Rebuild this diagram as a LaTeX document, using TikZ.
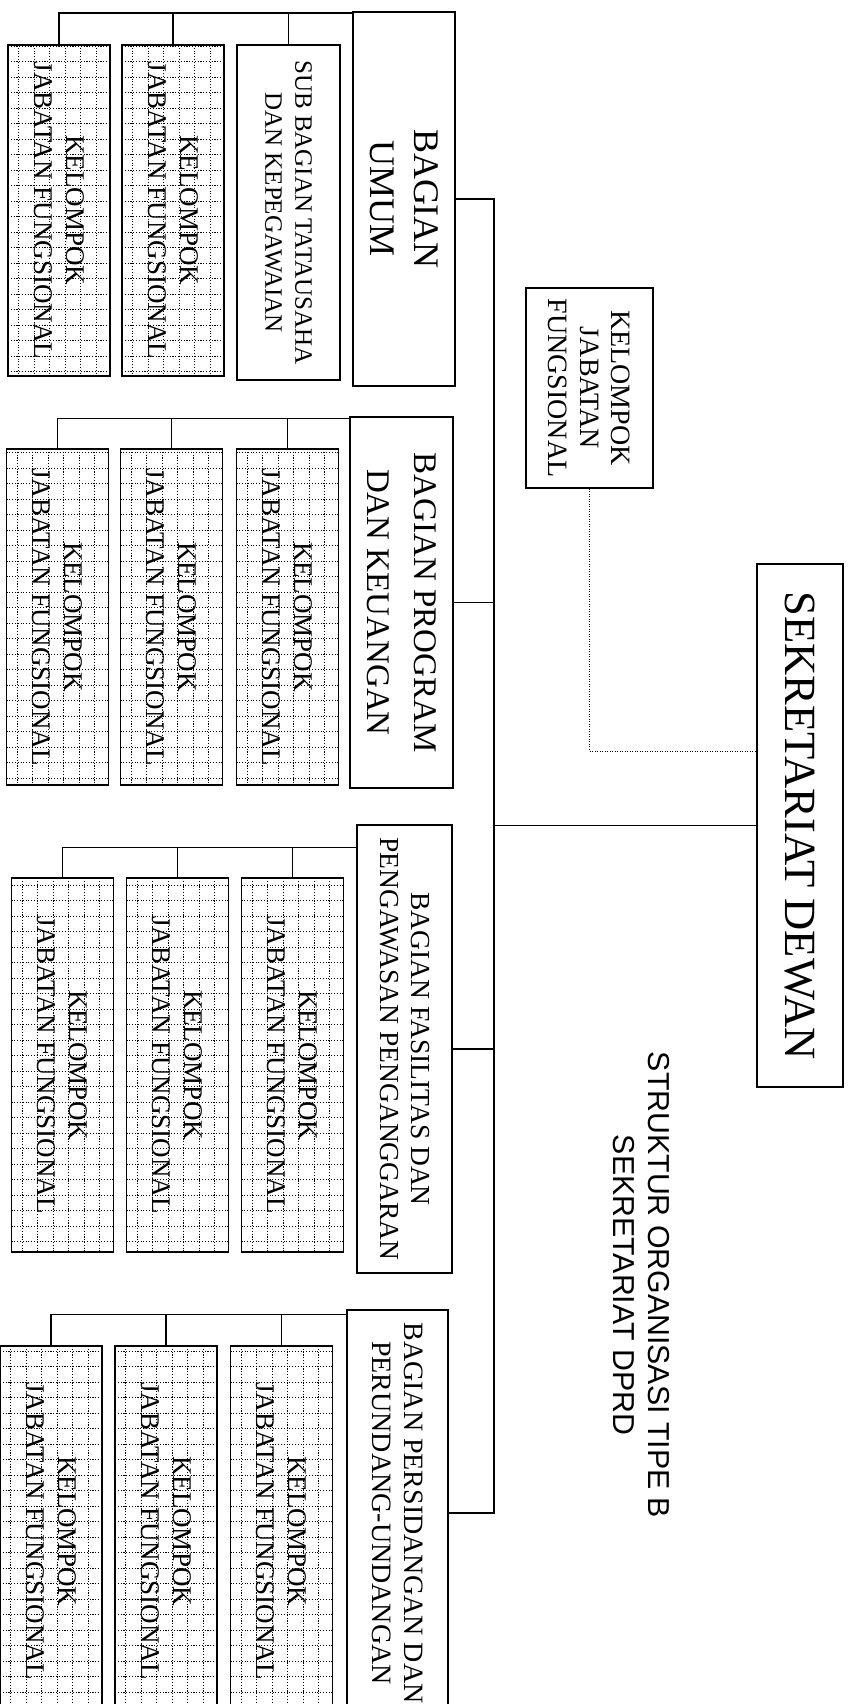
\documentclass[tikz,border=0pt]{standalone}
\usepackage{fontspec}
\setmainfont{Liberation Serif}
\newfontfamily\titlefont{Liberation Sans}
\usetikzlibrary{calc}

\tikzset{
  unit/.style={draw, line width=1.6pt, align=center, inner sep=0pt},
  kjfbox/.style={unit, minimum width=#1, minimum height=102pt,
    font=\fontsize{27}{32}\selectfont,
    path picture={\draw[black, line width=1pt, dash pattern=on 1.1pt off 1.7pt, step=15.5pt]
      (path picture bounding box.south west) grid (path picture bounding box.north east);}},
  link/.style={line width=1.4pt},
}

\begin{document}
\begin{tikzpicture}[x=1pt,y=1pt,rotate=-90,transform shape]
\useasboundingbox (0,0) rectangle (1704,850);
\clip (0,0) rectangle (1704,850);

\node[unit, minimum width=523pt, minimum height=86pt, font=\fontsize{44.6}{53}\selectfont] (sek) at (825.5,800) {SEKRETARIAT DEWAN};
\node[unit, minimum width=200pt, minimum height=127pt, font=\fontsize{28}{31.5}\selectfont] (kjf0) at (388,589.5) {KELOMPOK\\JABATAN\\FUNGSIONAL};
\node[font=\titlefont\fontsize{30.3}{35}\selectfont, align=center] (title) at (1285,641.5) {STRUKTUR ORGANISASI TIPE B\\SEKRETARIAT DPRD};

\node[unit, minimum width=374pt, minimum height=102pt, font=\fontsize{36}{44}\selectfont] (umum) at (199,404) {BAGIAN\\UMUM};
\node[unit, minimum width=335pt, minimum height=103pt, font=\fontsize{25}{30}\selectfont] (sub) at (212.5,288.5) {SUB BAGIAN TATAUSAHA\\DAN KEPEGAWAIAN};
\node[kjfbox=331pt] (u2) at (210.5,173) {KELOMPOK\\JABATAN FUNGSIONAL};
\node[kjfbox=331pt] (u1) at (210.5,59) {KELOMPOK\\JABATAN FUNGSIONAL};

\node[unit, minimum width=371pt, minimum height=103pt, font=\fontsize{33}{47}\selectfont] (prog) at (602.5,401.5) {BAGIAN PROGRAM\\DAN KEUANGAN};
\node[kjfbox=336pt] (p3) at (617,287.5) {KELOMPOK\\JABATAN FUNGSIONAL};
\node[kjfbox=336pt] (p2) at (617,171.5) {KELOMPOK\\JABATAN FUNGSIONAL};
\node[kjfbox=336pt] (p1) at (617,57.5) {KELOMPOK\\JABATAN FUNGSIONAL};

\node[unit, minimum width=448pt, minimum height=95pt, font=\fontsize{27.5}{31}\selectfont] (fas) at (1049,404.5) {BAGIAN FASILITAS DAN\\PENGAWASAN PENGANGGARAN};
\node[kjfbox=374pt] (f3) at (1065,292.5) {KELOMPOK\\JABATAN FUNGSIONAL};
\node[kjfbox=374pt] (f2) at (1065,177.5) {KELOMPOK\\JABATAN FUNGSIONAL};
\node[kjfbox=374pt] (f1) at (1065,62.5) {KELOMPOK\\JABATAN FUNGSIONAL};

\node[unit, minimum width=406pt, minimum height=101pt, font=\fontsize{28}{32}\selectfont] (pers) at (1513,397.5) {BAGIAN PERSIDANGAN DAN\\PERUNDANG-UNDANGAN};
\node[kjfbox=370pt] (s3) at (1531,281.5) {KELOMPOK\\JABATAN FUNGSIONAL};
\node[kjfbox=370pt] (s2) at (1531,166) {KELOMPOK\\JABATAN FUNGSIONAL};
\node[kjfbox=370pt] (s1) at (1531,51) {KELOMPOK\\JABATAN FUNGSIONAL};

\coordinate (tr) at (826,494);
\draw[link] (sek.south) -- (sek.south |- tr);
\draw[link] (umum.north) -- (umum.north |- tr) -- (pers.north |- tr) -- (pers.north);
\draw[link] (prog.north) -- (prog.north |- tr);
\draw[link] (fas.north) -- (fas.north |- tr);
\draw[line width=1pt, dash pattern=on 1pt off 1.5pt] (kjf0.east) -| ($(sek.south west)+(188,0)$);

\draw[link] ($(umum.south west)+(2,0)$) |- (sub.west);
\draw[link] ($(umum.south west)+(2,0)$) |- (u2.west);
\draw[link] ($(umum.south west)+(2,0)$) |- (u1.west);

\draw[link] ($(prog.south west)+(2,0)$) |- (p3.west);
\draw[link] ($(prog.south west)+(2,0)$) |- (p2.west);
\draw[link] ($(prog.south west)+(2,0)$) |- (p1.west);

\draw[link] ($(fas.south west)+(23,0)$) |- (f3.west);
\draw[link] ($(fas.south west)+(23,0)$) |- (f2.west);
\draw[link] ($(fas.south west)+(23,0)$) |- (f1.west);

\draw[link] ($(pers.south west)+(5,0)$) |- (s3.west);
\draw[link] ($(pers.south west)+(5,0)$) |- (s2.west);
\draw[link] ($(pers.south west)+(5,0)$) |- (s1.west);
\end{tikzpicture}
\end{document}
